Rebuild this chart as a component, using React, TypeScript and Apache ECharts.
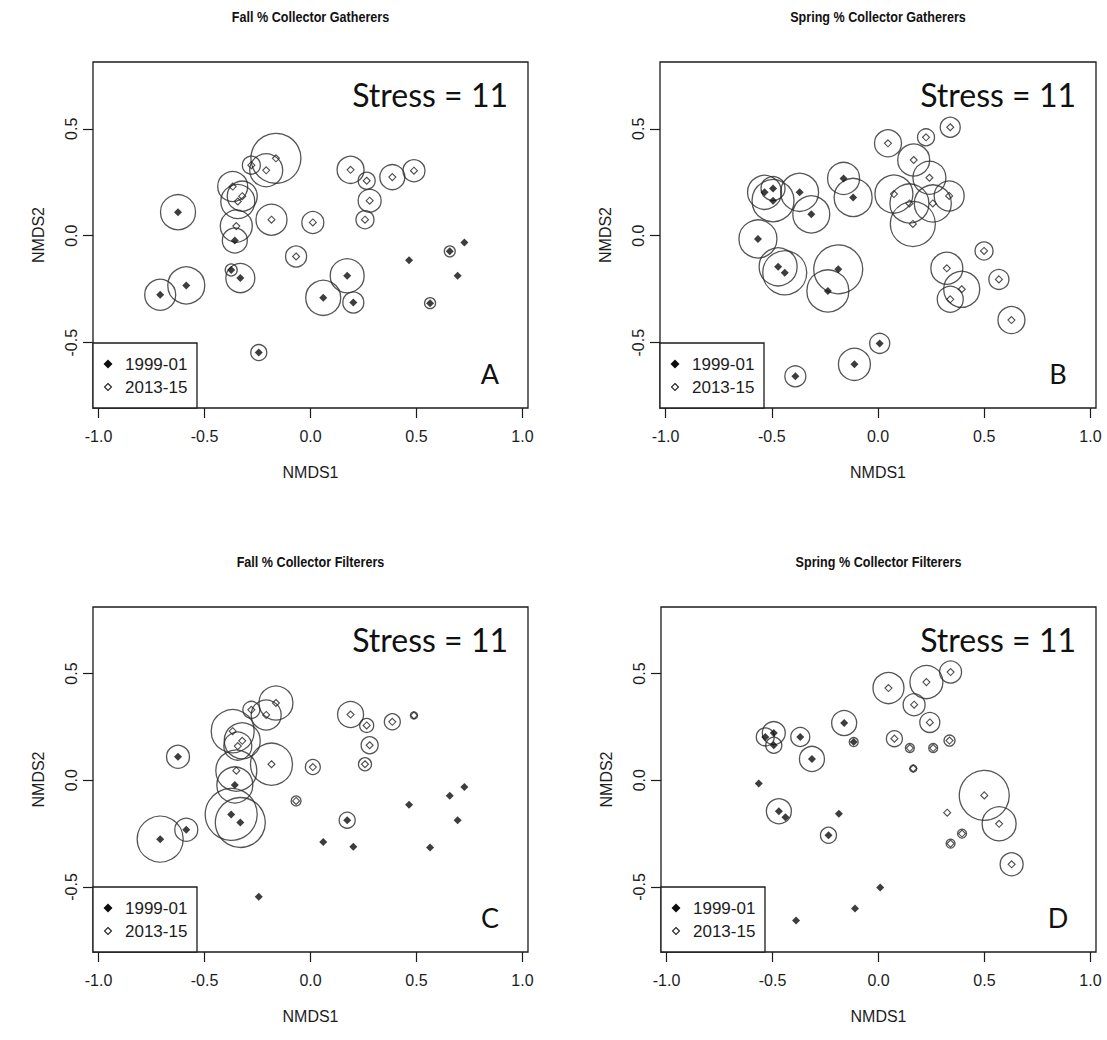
import React, { useEffect, useRef } from "react";
import * as echarts from "echarts";

// ---------------- data ----------------
// Fall NMDS ordination (shared by panels A and C)
const fallX99 = [-0.625, -0.357, -0.374, -0.331, -0.709, -0.586, -0.244, 0.06, 0.173, 0.202, 0.465, 0.657, 0.726, 0.694, 0.564];
const fallY99 = [0.11, -0.022, -0.16, -0.198, -0.276, -0.232, -0.546, -0.29, -0.187, -0.312, -0.115, -0.073, -0.032, -0.187, -0.315];
const fallX13 = [-0.163, -0.209, -0.279, -0.367, -0.322, -0.343, -0.35, -0.184, 0.011, -0.068, 0.189, 0.265, 0.386, 0.488, 0.279, 0.257];
const fallY13 = [0.362, 0.306, 0.33, 0.23, 0.185, 0.16, 0.045, 0.075, 0.062, -0.097, 0.308, 0.257, 0.274, 0.304, 0.164, 0.075];

// Spring NMDS ordination (shared by panels B and D)
const springX99 = [-0.534, -0.494, -0.494, -0.369, -0.314, -0.162, -0.117, -0.565, -0.47, -0.439, -0.187, -0.236, 0.008, -0.111, -0.389];
const springY99 = [0.203, 0.221, 0.164, 0.203, 0.1, 0.268, 0.179, -0.015, -0.145, -0.173, -0.157, -0.258, -0.503, -0.601, -0.657];
const springX13 = [0.047, 0.226, 0.34, 0.168, 0.242, 0.075, 0.148, 0.164, 0.258, 0.335, 0.499, 0.324, 0.394, 0.34, 0.569, 0.628];
const springY13 = [0.432, 0.46, 0.507, 0.354, 0.271, 0.195, 0.151, 0.055, 0.151, 0.186, -0.071, -0.152, -0.25, -0.297, -0.204, -0.394];

// percent of functional group (circle radius proportional)
const gathFall99 = [35, 25, 12, 29, 31, 37, 16, 35, 34, 21, 0, 11, 0, 0, 11];
const gathFall13 = [50, 33, 18, 30, 30, 34, 32, 31, 22, 21, 27, 17, 25, 22, 23, 18];
const gathSpring99 = [34, 24, 42, 38, 37, 32, 38, 38, 38, 44, 49, 42, 20, 32, 21];
const gathSpring13 = [27, 17, 20, 32, 33, 38, 39, 45, 37, 30, 18, 32, 36, 26, 20, 27];
const filtFall99 = [23, 36, 52, 50, 46, 23, 0, 0, 16, 0, 0, 0, 0, 0, 0];
const filtFall13 = [34, 30, 17, 43, 36, 28, 41, 42, 15, 10, 26, 14, 16, 7, 17, 13];
const filtSpring99 = [18, 23, 16, 19, 25, 25, 9, 0, 25, 0, 0, 16, 0, 0, 0];
const filtSpring13 = [31, 33, 22, 22, 20, 16, 9, 7, 9, 11, 50, 0, 9, 9, 34, 23];

const panelTitles = [
  "Fall % Collector Gatherers",
  "Spring % Collector Gatherers",
  "Fall % Collector Filterers",
  "Spring % Collector Filterers",
];
const panelLetters = ["A", "B", "C", "D"];
const stressLabel = "Stress = 11";
const legendLabels = ["1999-01", "2013-15"];
const xTicks = [-1, -0.5, 0, 0.5, 1];
const yTicks = [-0.5, 0, 0.5];
const xName = "NMDS1";
const yName = "NMDS2";

// ---------------- layout ----------------
const GRIDS = [
  { left: 93, top: 62, width: 435, height: 346 },
  { left: 660, top: 62, width: 436, height: 346 },
  { left: 93, top: 607, width: 435, height: 345 },
  { left: 661, top: 607, width: 435, height: 345 },
];
const X_MIN = -1.026, X_MAX = 1.026, Y_MIN = -0.805, Y_MAX = 0.812;
const R_PER_PCT = 0.5; // px of radius per percent
const INK = "#1c1c1c";
const RFONT = "'Liberation Sans', Arial, sans-serif";
const CFONT = "Lato, 'Open Sans', sans-serif";

const panels = [
  { x99: fallX99, y99: fallY99, x13: fallX13, y13: fallY13, s99: gathFall99, s13: gathFall13 },
  { x99: springX99, y99: springY99, x13: springX13, y13: springY13, s99: gathSpring99, s13: gathSpring13 },
  { x99: fallX99, y99: fallY99, x13: fallX13, y13: fallY13, s99: filtFall99, s13: filtFall13 },
  { x99: springX99, y99: springY99, x13: springX13, y13: springY13, s99: filtSpring99, s13: filtSpring13 },
];

function pts(xs: number[], ys: number[], s?: number[]) {
  return xs.map((x, i) => (s ? [x, ys[i], s[i]] : [x, ys[i]])).filter((p) => (s ? (p[2] as number) > 0 : true));
}

function buildOption() {
  const grid = GRIDS.map((g) => ({
    ...g,
    show: true,
    borderColor: INK,
    borderWidth: 1.3,
    backgroundColor: "transparent",
  }));
  const xAxis = GRIDS.map((_, i) => ({
    type: "value",
    gridIndex: i,
    min: X_MIN,
    max: X_MAX,
    position: "bottom",
    name: xName,
    nameLocation: "middle",
    nameGap: 56,
    nameTextStyle: { fontFamily: RFONT, fontSize: 16, color: INK },
    axisLine: { show: false, onZero: false },
    splitLine: { show: false },
    axisTick: { show: true, customValues: xTicks, length: 10, lineStyle: { color: INK, width: 1.2 } },
    axisLabel: {
      customValues: xTicks,
      formatter: (v: number) => v.toFixed(1),
      fontFamily: RFONT,
      fontSize: 16,
      color: INK,
      margin: 20,
    },
  }));
  const yAxis = GRIDS.map((_, i) => ({
    type: "value",
    gridIndex: i,
    min: Y_MIN,
    max: Y_MAX,
    position: "left",
    name: yName,
    nameLocation: "middle",
    nameGap: 47,
    nameTextStyle: { fontFamily: RFONT, fontSize: 16, color: INK },
    axisLine: { show: false, onZero: false },
    splitLine: { show: false },
    axisTick: { show: true, customValues: yTicks, length: 10, lineStyle: { color: INK, width: 1.2 } },
    axisLabel: {
      customValues: yTicks,
      formatter: (v: number) => v.toFixed(1),
      rotate: 90,
      fontFamily: RFONT,
      fontSize: 16,
      color: INK,
      margin: 14,
    },
  }));

  const series: any[] = [];
  panels.forEach((p, i) => {
    const circleStyle = { color: "rgba(0,0,0,0)", borderColor: "#2a2a2a", borderWidth: 1.3 };
    series.push({
      type: "scatter",
      xAxisIndex: i,
      yAxisIndex: i,
      data: pts(p.x99, p.y99, p.s99),
      symbol: "circle",
      symbolSize: (v: number[]) => v[2] * R_PER_PCT * 2,
      itemStyle: circleStyle,
      z: 2,
      silent: true,
    });
    series.push({
      type: "scatter",
      xAxisIndex: i,
      yAxisIndex: i,
      data: pts(p.x13, p.y13, p.s13),
      symbol: "circle",
      symbolSize: (v: number[]) => v[2] * R_PER_PCT * 2,
      itemStyle: circleStyle,
      z: 2,
      silent: true,
    });
    series.push({
      name: legendLabels[0],
      type: "scatter",
      xAxisIndex: i,
      yAxisIndex: i,
      data: pts(p.x99, p.y99),
      symbol: "diamond",
      symbolSize: 8,
      itemStyle: { color: "#0d0d0d" },
      z: 3,
    });
    series.push({
      name: legendLabels[1],
      type: "scatter",
      xAxisIndex: i,
      yAxisIndex: i,
      data: pts(p.x13, p.y13),
      symbol: "diamond",
      symbolSize: 7,
      itemStyle: { color: "rgba(0,0,0,0)", borderColor: "#222", borderWidth: 1.1 },
      z: 3,
    });
  });

  const graphic: any[] = [];
  GRIDS.forEach((g, i) => {
    const cx = g.left + g.width / 2;
    // title
    graphic.push({
      type: "text",
      x: cx,
      y: g.top - 45,
      scaleX: 0.84,
      style: { text: panelTitles[i], font: `bold 15px ${RFONT}`, fill: "#111", align: "center", verticalAlign: "middle" },
    });
    // stress
    graphic.push({
      type: "text",
      x: g.left + g.width - 20,
      y: g.top + 32,
      style: { text: stressLabel, font: `32px ${CFONT}`, fill: "#111", align: "right", verticalAlign: "middle" },
    });
    // letter
    graphic.push({
      type: "text",
      x: g.left + g.width - 38,
      y: g.top + g.height - 35,
      style: { text: panelLetters[i], font: `27px ${CFONT}`, fill: "#111", align: "center", verticalAlign: "middle" },
    });
    // legend box
    const bx = g.left, bh = 65, by = g.top + g.height - bh, bw = 104;
    graphic.push({
      type: "rect",
      shape: { x: bx, y: by, width: bw, height: bh },
      style: { fill: "#fff", stroke: INK, lineWidth: 1.3 },
      z: 10,
    });
    const rows = [by + 21, by + 44];
    rows.forEach((ry, k) => {
      const dx = bx + 15;
      const d = k === 0 ? 4.5 : 3.5;
      graphic.push({
        type: "polygon",
        shape: { points: [[dx, ry - d], [dx + d, ry], [dx, ry + d], [dx - d, ry]] },
        style: k === 0 ? { fill: "#0d0d0d" } : { fill: "none", stroke: "#222", lineWidth: 1.1 },
        z: 11,
      });
      graphic.push({
        type: "text",
        x: bx + 32,
        y: ry,
        style: { text: legendLabels[k], font: `17px ${RFONT}`, fill: INK, align: "left", verticalAlign: "middle" },
        z: 11,
      });
    });
  });

  return {
    animation: false,
    backgroundColor: "#ffffff",
    grid,
    xAxis,
    yAxis,
    series,
    graphic,
  };
}

export default function App() {
  const ref = useRef<HTMLDivElement>(null);
  useEffect(() => {
    if (!ref.current) return;
    const chart = echarts.init(ref.current, undefined, { renderer: "svg" });
    chart.setOption(buildOption() as any);
    return () => chart.dispose();
  }, []);
  return (
    <div
      ref={ref}
      style={{ position: "absolute", left: 0, top: 0, width: 1107, height: 1040, background: "#fff" }}
    />
  );
}
